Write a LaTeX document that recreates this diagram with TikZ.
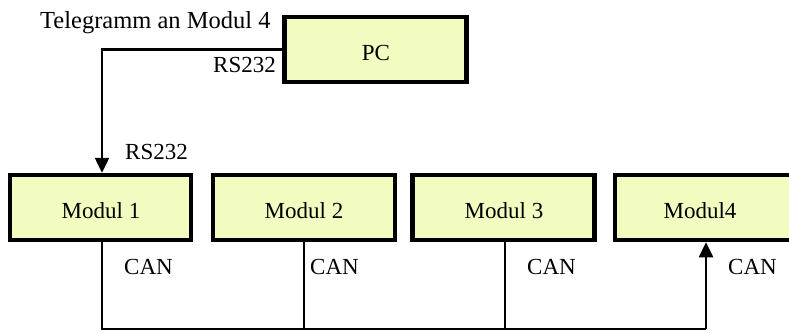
\documentclass[tikz,border=0pt]{standalone}
\usepackage{fontspec}
\setmainfont{Liberation Serif}
\usetikzlibrary{arrows.meta}
\definecolor{boxfill}{RGB}{243,252,192}
\begin{document}
\begin{tikzpicture}[x=1pt,y=-1pt,
  font=\fontsize{23}{27}\selectfont,
  box/.style={draw=black, line width=4.5pt, fill=boxfill, minimum width=182pt, minimum height=65pt, inner sep=0pt},
  wire/.style={draw=black, line width=2.5pt},
  arr/.style={wire, -{Triangle[length=15pt,width=14pt]}},
  lbl/.style={inner sep=0pt, anchor=base west}]
\useasboundingbox (0,0) rectangle (789,332);
\clip (0,0) rectangle (789,332);
\fill[white] (0,0) rectangle (789,332);
% boxes
\node[box] (pc) at (375.5,49.5) {};
\node[box, minimum width=181pt] (m1) at (100.5,207.5) {};
\node[box] (m2) at (304,207.5) {};
\node[box] (m3) at (503.5,207.5) {};
\node[box] (m4) at (706,207.5) {};
% box texts
\node[inner sep=0pt, anchor=base] (tpc) at (376,60) {PC};
\node[inner sep=0pt, anchor=base] (t1) at (101,218) {Modul 1};
\node[inner sep=0pt, anchor=base] (t2) at (304,218) {Modul 2};
\node[inner sep=0pt, anchor=base] (t3) at (504,218) {Modul 3};
\node[inner sep=0pt, anchor=base] (t4) at (700,218) {Modul4};
% labels
\node[lbl, font=\fontsize{24.5}{28}\selectfont] (tel) at (40,28) {Telegramm an Modul 4};
\node[inner sep=0pt, anchor=base east] (rs1) at (276,72) {RS232};
\node[lbl] (rs2) at (125,159) {RS232};
\node[lbl] (c1) at (124,274) {CAN};
\node[lbl] (c2) at (310,274) {CAN};
\node[lbl] (c3) at (527,274) {CAN};
\node[lbl] (c4) at (728,274) {CAN};
% RS232 connection
\coordinate (k1) at (102,49.5);
\draw[arr] (pc.west) -- (k1) -- (m1.north -| k1);
% CAN bus
\coordinate (b1) at (102,329);
\coordinate (b2) at (304,329);
\coordinate (b3) at (505,329);
\coordinate (b4) at (706,329);
\draw[wire] (m1.south -| b1) -- (b1) -- (b4);
\draw[wire] (m2.south -| b2) -- (b2);
\draw[wire] (m3.south -| b3) -- (b3);
\draw[arr] (b4) -- (m4.south -| b4);
\end{tikzpicture}
\end{document}
